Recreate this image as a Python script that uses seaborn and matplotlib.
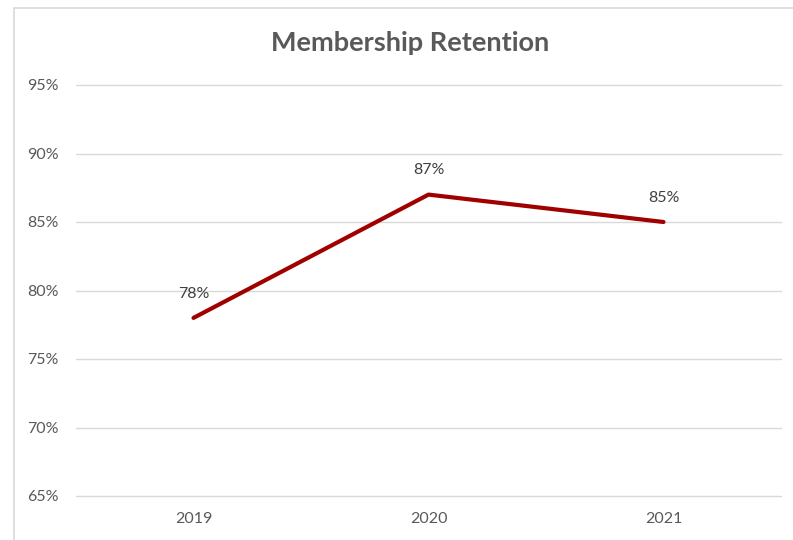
import matplotlib
matplotlib.use("Agg")
import matplotlib.pyplot as plt
import seaborn as sns
import pandas as pd
from matplotlib.patches import Rectangle

years = ["2019", "2020", "2021"]
retention = [78, 87, 85]
yticks = [65, 70, 75, 80, 85, 90, 95]
title = "Membership Retention"

sns.set_theme(style="white")
plt.rcParams['font.family'] = ['Lato', 'DejaVu Sans']

df = pd.DataFrame({"year": years, "retention": retention})

fig = plt.figure(figsize=(7.93, 5.40), dpi=100)
ax = fig.add_axes([76/793, 1-496/540, (781-76)/793, (496-85)/540])

sns.lineplot(data=df, x="year", y="retention", ax=ax, color="#A00000",
             linewidth=3.0, solid_capstyle="round", sort=False)

ax.set_xlim(-0.5, 2.5)
ax.set_ylim(65, 95)
ax.set_yticks(yticks)
ax.set_yticklabels([f"{v}%" for v in yticks])
for y in yticks:
    ax.axhline(y, color="#D9D9D9", linewidth=1.0, zorder=0, clip_on=False)
for s in ax.spines.values():
    s.set_visible(False)
ax.tick_params(axis="both", length=0, labelsize=11.5, labelcolor="#595959")
ax.tick_params(axis="y", pad=12.5)
ax.tick_params(axis="x", pad=11.5)
ax.set_xlabel("")
ax.set_ylabel("")

for i, v in enumerate(retention):
    ax.annotate(f"{v}%", (i, v), xytext=(0, 17.5), textcoords="offset points",
                ha="center", va="center", fontsize=11.5, color="#404040")

fig.text(410/793, 1-43/540, title, ha="center", va="center",
         fontsize=19.5, fontweight="bold", color="#595959")

fig.patches.append(Rectangle((14/793, -0.1), 1.2, 1.1 - 8/540, transform=fig.transFigure,
                             fill=False, edgecolor="#D9D9D9", linewidth=1.2))

fig.savefig("out.png", dpi=100)
